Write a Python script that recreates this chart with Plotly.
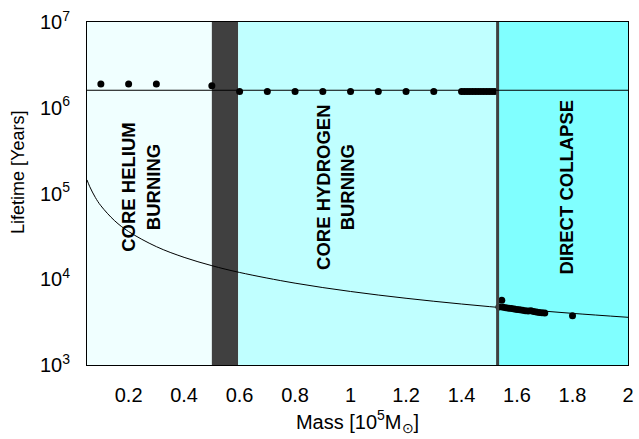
import plotly.graph_objects as go

# Regions (mass in 1e5 Msun)
region_edges = [0.05, 0.5, 0.595, 1.53, 2.0]
region_colors = ["#F0FFFF", "#404040", "#C0FFFF", "#80FFFF"]

# Simulation points
sim_mass = [0.1, 0.2, 0.3, 0.5, 0.6, 0.7, 0.8, 0.9, 1.0, 1.1, 1.2, 1.3,
            1.40, 1.41, 1.42, 1.43, 1.44, 1.45, 1.46, 1.47, 1.48, 1.49, 1.50, 1.51, 1.52]
sim_life = [1.89e6, 1.89e6, 1.89e6, 1.8e6, 1.55e6, 1.55e6, 1.55e6, 1.55e6, 1.55e6, 1.55e6, 1.55e6, 1.55e6,
            1.55e6, 1.55e6, 1.55e6, 1.55e6, 1.55e6, 1.55e6, 1.55e6, 1.55e6, 1.55e6, 1.55e6, 1.55e6, 1.55e6, 1.55e6]

dc_mass = [1.535, 1.545, 1.55, 1.56, 1.57, 1.58, 1.59, 1.60, 1.61, 1.62, 1.63, 1.64, 1.65, 1.66, 1.67, 1.68, 1.69, 1.70, 1.80]
dc_life = [4.75e3, 5.7e3, 4.7e3, 4.65e3, 4.6e3, 4.55e3, 4.5e3, 4.45e3, 4.4e3, 4.35e3, 4.3e3, 4.25e3, 4.3e3, 4.2e3, 4.15e3, 4.1e3, 4.07e3, 4.05e3, 3.75e3]

# Horizontal reference lifetime
h_life = 1.6e6

# Model curve
curve_mass = [0.05, 0.06, 0.08, 0.1, 0.15, 0.2, 0.3, 0.4, 0.5, 0.6, 0.8, 1.0, 1.2, 1.4, 1.6, 1.8, 2.0]
curve_life = [1.44e5, 1.2e5, 9.0e4, 7.2e4, 4.8e4, 3.6e4, 2.4e4, 1.8e4, 1.44e4, 1.2e4, 9.0e3, 7.2e3,
              6.0e3, 5.14e3, 4.5e3, 4.0e3, 3.6e3]

x_ticks = [0.2, 0.4, 0.6, 0.8, 1.0, 1.2, 1.4, 1.6, 1.8, 2.0]
x_tick_text = ["0.2", "0.4", "0.6", "0.8", "1", "1.2", "1.4", "1.6", "1.8", "2"]
y_ticks = [1e3, 1e4, 1e5, 1e6, 1e7]
y_tick_text = ["10<sup>3</sup>", "10<sup>4</sup>", "10<sup>5</sup>", "10<sup>6</sup>", "10<sup>7</sup>"]

labels = [("CORE HELIUM<br>BURNING", 0.245), ("CORE HYDROGEN<br>BURNING", 0.945), ("DIRECT COLLAPSE", 1.78)]

fig = go.Figure()

shapes = []
for i, c in enumerate(region_colors):
    shapes.append(dict(type="rect", xref="x", yref="paper", x0=region_edges[i], x1=region_edges[i + 1],
                       y0=0, y1=1, fillcolor=c, line=dict(width=0), layer="below"))
shapes.append(dict(type="line", xref="x", yref="paper", x0=region_edges[3], x1=region_edges[3],
                   y0=0, y1=1, line=dict(color="#404040", width=3)))
shapes.append(dict(type="line", xref="paper", yref="y", x0=0, x1=1, y0=h_life, y1=h_life,
                   line=dict(color="black", width=1)))

fig.add_trace(go.Scatter(x=curve_mass, y=curve_life, mode="lines", line=dict(color="black", width=1, shape="spline"),
                         showlegend=False, hoverinfo="skip"))
fig.add_trace(go.Scatter(x=sim_mass, y=sim_life, mode="markers", marker=dict(color="black", size=7),
                         showlegend=False))
fig.add_trace(go.Scatter(x=dc_mass, y=dc_life, mode="markers", marker=dict(color="black", size=7),
                         showlegend=False))

annotations = []
for text, xm in labels:
    t = "<b>" + text.replace("<br>", "</b><br><b>") + "</b>"
    annotations.append(dict(x=xm, y=0.52, xref="x", yref="paper", text=t, showarrow=False,
                            textangle=-90, font=dict(family="Liberation Sans, Arial", size=18.5, color="black"),
                            align="center"))
annotations.append(dict(x=-0.1275, y=0.56, xref="paper", yref="paper", text="Lifetime [Years]",
                        showarrow=False, textangle=-90, xanchor="center", yanchor="middle",
                        font=dict(family="Liberation Sans, Arial", size=18, color="black")))

fig.update_layout(
    width=639, height=439,
    margin=dict(l=87, r=11, t=22, b=74, autoexpand=False),
    paper_bgcolor="white", plot_bgcolor="white",
    shapes=shapes, annotations=annotations,
    font=dict(family="Liberation Sans, Arial", size=18, color="black"),
    xaxis=dict(range=[0.05, 2.0], tickvals=x_ticks, ticktext=x_tick_text, showgrid=False, zeroline=False,
               showline=True, linecolor="black", linewidth=1, mirror=True, ticks="", automargin=False,
               ticklabelstandoff=12, ticklabeloverflow="allow", tickfont=dict(size=20),
               title=dict(text="Mass [10<sup>5</sup>M<sub>⊙</sub>]", standoff=9, font=dict(size=20))),
    yaxis=dict(type="log", range=[3, 7], tickvals=y_ticks, ticktext=y_tick_text, showgrid=False, zeroline=False,
               showline=True, linecolor="black", linewidth=1, mirror=True, ticks="", automargin=False,
               ticklabelstandoff=12, ticklabeloverflow="allow", tickfont=dict(size=20)),
)

fig.write_html("out.html", config={"displayModeBar": False},
               post_script="document.body.style.margin='0';document.body.style.overflow='hidden';")
